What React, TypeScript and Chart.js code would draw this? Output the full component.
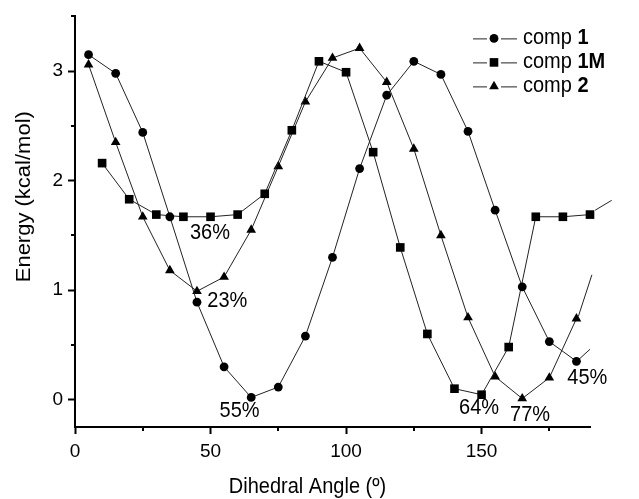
import React, { useEffect, useRef } from 'react';
import { Chart, registerables } from 'chart.js';

Chart.register(...registerables);

// ---------- data ----------
const comp1Angles = [5, 15, 25, 35, 45, 55, 65, 75, 85, 95, 105, 115, 125, 135, 145, 155, 165, 175, 185];
const comp1Energy = [3.15, 2.98, 2.44, 1.67, 0.89, 0.3, 0.02, 0.115, 0.58, 1.3, 2.11, 2.78, 3.09, 2.97, 2.45, 1.73, 1.03, 0.53, 0.35];

const comp1MAngles = [10, 20, 30, 40, 50, 60, 70, 80, 90, 100, 110, 120, 130, 140, 150, 160, 170, 180, 190];
const comp1MEnergy = [2.16, 1.83, 1.69, 1.67, 1.67, 1.69, 1.88, 2.46, 3.09, 2.99, 2.26, 1.39, 0.6, 0.1, 0.045, 0.48, 1.67, 1.67, 1.69];

const comp2Angles = [5, 15, 25, 35, 45, 55, 65, 75, 85, 95, 105, 115, 125, 135, 145, 155, 165, 175, 185];
const comp2Energy = [3.06, 2.35, 1.67, 1.18, 0.99, 1.12, 1.55, 2.13, 2.72, 3.12, 3.21, 2.9, 2.29, 1.5, 0.75, 0.21, 0.01, 0.2, 0.74];

// curve pieces that run on past the right end of the axis
const comp1ExtAngles = [186, 190, 190, 195, 203.3, 203.3, 204.8, 208.2];
const comp1ExtEnergy = [0.37, 0.46, null, 0.58, 1.0, null, 1.1, 1.33];
const comp1MExtAngles = [191.9, 198, 198, 201.1, 207.9];
const comp1MExtEnergy = [1.73, 1.82, null, 1.9, 2.16];
const comp2ExtAngles = [185.7, 190.7];
const comp2ExtEnergy = [0.76, 1.14];

// population labels
const popLabels = ['36%', '23%', '55%', '64%', '77%', '45%'];
const popAngles = [49.8, 56.2, 60.7, 149.1, 167.9, 189.0];
const popEnergy = [1.52, 0.9, -0.106, -0.08, -0.14, 0.2];

const seriesPrefix = 'comp ';
const seriesBold = ['1', '1M', '2'];
const seriesStyles = ['circle', 'rect', 'triangle'];

const xTitle = 'Dihedral Angle (º)';
const yTitle = 'Energy (kcal/mol)';
const xMajorStep = 50;
const yMajorStep = 1;

const FONT = "'Liberation Sans', Arial, sans-serif";
const LINE = '#222';
const STRETCH = 1.1;

const toXY = (xs: number[], ys: (number | null)[]) => xs.map((x, i) => ({ x, y: ys[i] }));
const isMajor = (v: number, step: number) => Math.abs(v / step - Math.round(v / step)) < 1e-6;

function drawMarker(ctx: CanvasRenderingContext2D, style: string, x: number, y: number) {
  ctx.beginPath();
  if (style === 'circle') {
    ctx.arc(x, y, 4.4, 0, Math.PI * 2);
  } else if (style === 'rect') {
    ctx.rect(x - 4.3, y - 4.3, 8.6, 8.6);
  } else {
    const r = 5.6;
    ctx.moveTo(x, y - r);
    ctx.lineTo(x + r * 0.866, y + r / 2);
    ctx.lineTo(x - r * 0.866, y + r / 2);
    ctx.closePath();
  }
  ctx.fill();
}

function stretchedText(ctx: CanvasRenderingContext2D, text: string, x: number, y: number) {
  ctx.save();
  ctx.translate(x, y);
  ctx.scale(1, STRETCH);
  ctx.fillText(text, 0, 0);
  ctx.restore();
}

const overlayPlugin = {
  id: 'overlay',
  afterDraw(chart: any) {
    const { ctx, chartArea, scales } = chart;
    const xs = scales.x;
    const ys = scales.y;
    ctx.save();

    // minor ticks (shorter than the major ones)
    ctx.strokeStyle = '#000';
    ctx.lineWidth = 2;
    ctx.beginPath();
    xs.ticks.forEach((t: any) => {
      if (!isMajor(t.value, xMajorStep)) {
        const px = Math.round(xs.getPixelForValue(t.value));
        ctx.moveTo(px, chartArea.bottom);
        ctx.lineTo(px, chartArea.bottom + 4);
      }
    });
    ys.ticks.forEach((t: any) => {
      if (!isMajor(t.value, yMajorStep)) {
        const py = Math.round(ys.getPixelForValue(t.value));
        ctx.moveTo(chartArea.left, py);
        ctx.lineTo(chartArea.left - 4, py);
      }
    });
    ctx.stroke();

    ctx.fillStyle = '#000';
    // population labels
    ctx.font = `20px ${FONT}`;
    ctx.textAlign = 'center';
    ctx.textBaseline = 'middle';
    popLabels.forEach((t, i) => {
      stretchedText(ctx, t, xs.getPixelForValue(popAngles[i]), ys.getPixelForValue(popEnergy[i]));
    });

    // axis titles
    ctx.textBaseline = 'alphabetic';
    ctx.font = `20px ${FONT}`;
    stretchedText(ctx, xTitle, (chartArea.left + chartArea.right) / 2 - 25, chartArea.bottom + 66);
    ctx.save();
    ctx.translate(chartArea.left - 45, (chartArea.top + chartArea.bottom) / 2 - 25);
    ctx.rotate(-Math.PI / 2);
    ctx.scale(STRETCH, 1);
    ctx.font = `20px ${FONT}`;
    ctx.fillText(yTitle, 0, 0);
    ctx.restore();

    // legend
    const mx = chartArea.right - 96;
    seriesBold.forEach((b, i) => {
      const y = chartArea.top + 22 + i * 24;
      ctx.strokeStyle = LINE;
      ctx.lineWidth = 1;
      ctx.beginPath();
      ctx.moveTo(mx - 21, y + 0.5);
      ctx.lineTo(mx - 7, y + 0.5);
      ctx.moveTo(mx + 7, y + 0.5);
      ctx.lineTo(mx + 23, y + 0.5);
      ctx.stroke();
      ctx.fillStyle = '#000';
      drawMarker(ctx, seriesStyles[i], mx, y);
      ctx.textAlign = 'left';
      ctx.textBaseline = 'middle';
      ctx.font = `20px ${FONT}`;
      const tx = mx + 29;
      stretchedText(ctx, seriesPrefix, tx, y);
      const w = ctx.measureText(seriesPrefix).width;
      ctx.font = `bold 20px ${FONT}`;
      stretchedText(ctx, b, tx + w, y);
    });
    ctx.restore();
  },
};

export default function App() {
  const ref = useRef<HTMLCanvasElement>(null);

  useEffect(() => {
    if (!ref.current) return;
    const base = {
      borderColor: LINE,
      borderWidth: 1,
      backgroundColor: '#000',
      pointBackgroundColor: '#000',
      pointBorderColor: '#000',
      pointBorderWidth: 0,
      showLine: true,
      clip: false as any,
      tension: 0,
    };
    const ext = {
      borderColor: LINE,
      borderWidth: 1,
      pointRadius: 0,
      pointHoverRadius: 0,
      showLine: true,
      spanGaps: false,
      clip: false as any,
    };
    const chart = new Chart(ref.current, {
      type: 'line',
      data: {
        datasets: [
          { ...base, label: 'comp 1', data: toXY(comp1Angles, comp1Energy), pointStyle: 'circle', pointRadius: 4.4 },
          { ...base, label: 'comp 1M', data: toXY(comp1MAngles, comp1MEnergy), pointStyle: 'rect', pointRadius: 6.1 },
          { ...base, label: 'comp 2', data: toXY(comp2Angles, comp2Energy), pointStyle: 'triangle', pointRadius: 5.6 },
          { ...ext, label: 'e1', data: toXY(comp1ExtAngles, comp1ExtEnergy) },
          { ...ext, label: 'e1M', data: toXY(comp1MExtAngles, comp1MExtEnergy) },
          { ...ext, label: 'e2', data: toXY(comp2ExtAngles, comp2ExtEnergy) },
        ] as any,
      },
      options: {
        animation: false,
        responsive: false,
        events: [],
        layout: { padding: { top: 13, right: 49, left: 0, bottom: 0 } },
        plugins: { legend: { display: false }, tooltip: { enabled: false }, title: { display: false } },
        scales: {
          x: {
            type: 'linear',
            min: 0,
            max: 190,
            afterFit: (s: any) => { s.height = 72; },
            border: { display: true, color: '#000', width: 2 },
            grid: {
              display: true,
              drawOnChartArea: false,
              drawTicks: true,
              tickLength: 7,
              tickWidth: 2,
              tickColor: (c: any) => (c.tick && isMajor(c.tick.value, xMajorStep) ? '#000' : 'rgba(0,0,0,0)'),
            },
            ticks: {
              stepSize: 25,
              includeBounds: false,
              autoSkip: false,
              maxRotation: 0,
              padding: 6,
              color: '#000',
              font: { family: FONT, size: 19 },
              callback: (v: any) => (isMajor(Number(v), xMajorStep) ? String(v) : ''),
            },
            title: { display: false },
          },
          y: {
            type: 'linear',
            min: -0.25,
            max: 3.5,
            afterFit: (s: any) => { s.width = 75; },
            border: { display: true, color: '#000', width: 2 },
            grid: {
              display: true,
              drawOnChartArea: false,
              drawTicks: true,
              tickLength: 7,
              tickWidth: 2,
              tickColor: (c: any) => (c.tick && isMajor(c.tick.value, yMajorStep) ? '#000' : 'rgba(0,0,0,0)'),
            },
            ticks: {
              stepSize: 0.5,
              includeBounds: false,
              autoSkip: false,
              padding: 5,
              color: '#000',
              font: { family: FONT, size: 19 },
              callback: (v: any) => (isMajor(Number(v), yMajorStep) ? String(v) : ''),
            },
            title: { display: false },
          },
        },
      } as any,
      plugins: [overlayPlugin],
    });
    return () => chart.destroy();
  }, []);

  return (
    <div style={{ position: 'fixed', left: 0, top: 0, width: 639, height: 499, background: '#fff' }}>
      <canvas ref={ref} width={639} height={499} style={{ display: 'block' }} />
    </div>
  );
}
